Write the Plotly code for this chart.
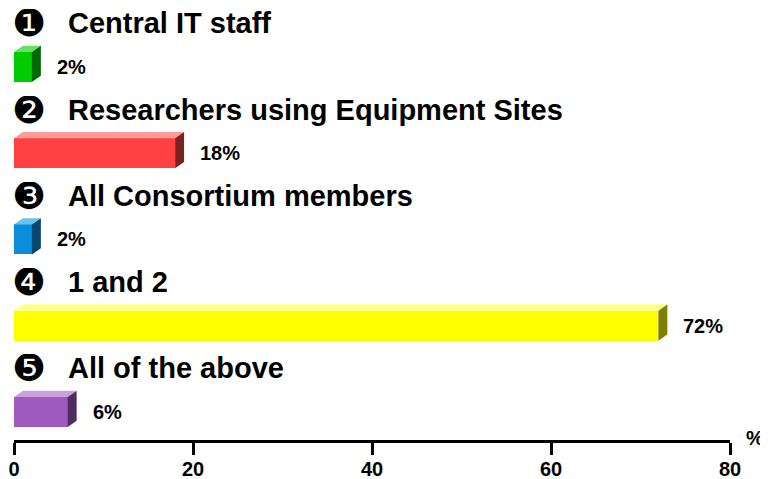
import plotly.graph_objects as go

categories = ["Central IT staff", "Researchers using Equipment Sites", "All Consortium members", "1 and 2", "All of the above"]
markers = ["\u2776", "\u2777", "\u2778", "\u2779", "\u277a"]
values = [2, 18, 2, 72, 6]
front_colors = ["#00cc00", "#ff4040", "#0a8edc", "#ffff00", "#a05abe"]
top_colors = ["#66e066", "#ff9a9a", "#6cc0ee", "#ffff80", "#c9a2dc"]
side_colors = ["#006a00", "#7c2020", "#05476e", "#808000", "#502d5f"]
x_ticks = [0, 20, 40, 60, 80]

bar_w = 0.348
dx = 1.0     # depth in x units
dy = 0.072   # depth in y units (upwards)

fig = go.Figure()
for i, (v, fc, tc, sc) in enumerate(zip(values, front_colors, top_colors, side_colors)):
    top = i - bar_w / 2
    bot = i + bar_w / 2
    fig.add_trace(go.Bar(x=[v], y=[i], orientation="h", width=bar_w,
                         marker=dict(color=fc, line=dict(width=0)), showlegend=False, hoverinfo="skip"))
    # top face
    fig.add_trace(go.Scatter(x=[0, v, v + dx, dx, 0], y=[top, top, top - dy, top - dy, top],
                             fill="toself", fillcolor=tc, mode="lines", line=dict(width=0, color=tc),
                             showlegend=False, hoverinfo="skip"))
    # right face
    fig.add_trace(go.Scatter(x=[v, v + dx, v + dx, v, v], y=[top, top - dy, bot - dy, bot, top],
                             fill="toself", fillcolor=sc, mode="lines", line=dict(width=0, color=sc),
                             showlegend=False, hoverinfo="skip"))
    fig.add_annotation(x=v + dx, y=i, xref="x", yref="y", text=f"{v}%", showarrow=False,
                       xanchor="left", yanchor="middle", xshift=14,
                       font=dict(family="Liberation Sans", size=20, color="black", weight="bold"))
    fig.add_annotation(x=0, y=i - 0.505, xref="x", yref="y", text=markers[i], showarrow=False,
                       xanchor="left", yanchor="middle", xshift=-4, height=28, valign="middle",
                       font=dict(family="DejaVu Sans", size=38, color="black"))
    fig.add_annotation(x=0, y=i - 0.505, xref="x", yref="y", text=categories[i], showarrow=False,
                       xanchor="left", yanchor="middle", xshift=52,
                       font=dict(family="Liberation Sans", size=29, color="black", weight="bold"))

fig.add_annotation(x=1, y=0, xref="paper", yref="paper", text="%", showarrow=False,
                   xanchor="left", yanchor="middle", xshift=14, yshift=2,
                   font=dict(family="Liberation Sans", size=20, color="black", weight="bold"))

fig.update_layout(
    width=760, height=471,
    margin=dict(l=6, r=38, t=0, b=39, autoexpand=False),
    paper_bgcolor="white", plot_bgcolor="white",
    bargap=0,
    xaxis=dict(range=[0, 80], tickvals=x_ticks, ticktext=[str(t) for t in x_ticks],
               showgrid=False, zeroline=False, showline=True, linecolor="black", linewidth=3,
               ticks="outside", ticklen=12, tickwidth=3, tickcolor="black", automargin=False,
               ticklabeloverflow="allow", ticklabelstandoff=-3,
               tickfont=dict(family="Liberation Sans", size=20, color="black", weight="bold"),
               fixedrange=True),
    yaxis=dict(range=[4.325, -0.684], showgrid=False, zeroline=False, showline=False,
               showticklabels=False, ticks="", fixedrange=True, automargin=False),
)

fig.write_html("out.html")
